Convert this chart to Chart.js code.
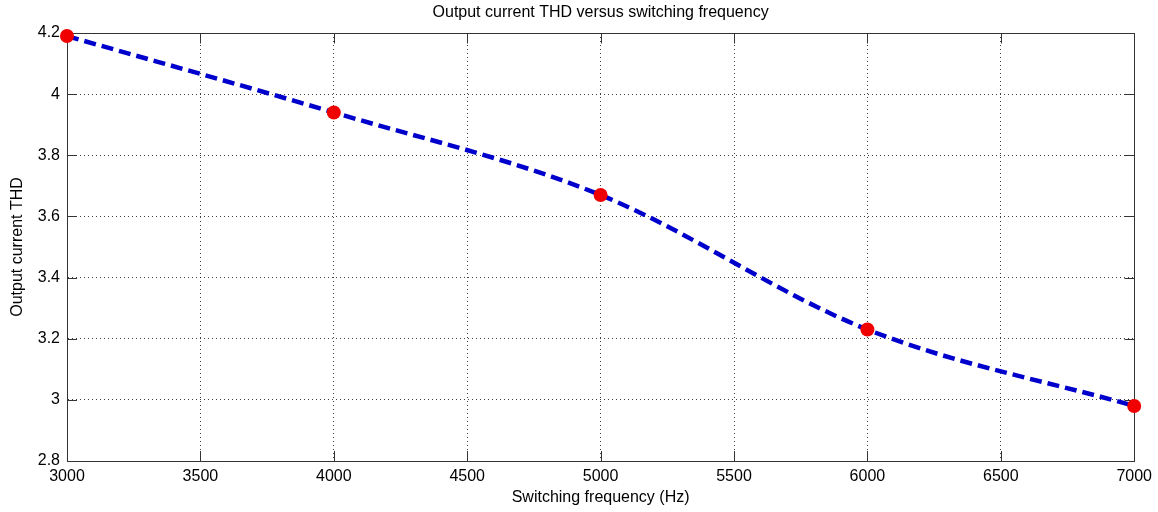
<!DOCTYPE html>
<html>
<head>
<meta charset="utf-8">
<title>Output current THD versus switching frequency</title>
<script src="https://cdn.jsdelivr.net/npm/chart.js@4/dist/chart.umd.min.js"></script>
<style>
  html, body { margin: 0; padding: 0; background: #fff; }
  #wrap { width: 1158px; height: 512px; }
</style>
</head>
<body>
<div id="wrap"><canvas id="thdChart" width="1158" height="512"></canvas></div>
<script>
// switching frequency (Hz) and measured output current THD
const freqHz = [3000, 4000, 5000, 6000, 7000];
const thd = [4.19, 3.94, 3.67, 3.23, 2.98];

const xTicks = [3000, 3500, 4000, 4500, 5000, 5500, 6000, 6500, 7000];
const yTicks = [2.8, 3, 3.2, 3.4, 3.6, 3.8, 4, 4.2];

const axisColor = '#333';
const fontFamily = '"Liberation Sans", Arial, Helvetica, sans-serif';

// closes the box on top/right and draws MATLAB-style inward ticks
const boxTicks = {
    id: 'boxTicks',
    beforeDatasetsDraw(chart) {
        const ctx = chart.ctx;
        const a = chart.chartArea;
        const xs = chart.scales.x;
        const ys = chart.scales.y;
        const len = 10;
        const top = Math.round(ys.getPixelForValue(yTicks[yTicks.length - 1])) + 0.5;
        const right = Math.round(xs.getPixelForValue(xTicks[xTicks.length - 1])) + 0.5;
        ctx.save();
        ctx.strokeStyle = axisColor;
        ctx.lineWidth = 1;
        ctx.beginPath();
        ctx.moveTo(a.left, top);
        ctx.lineTo(right, top);
        ctx.moveTo(right, top);
        ctx.lineTo(right, a.bottom);
        xTicks.forEach(v => {
            const px = Math.round(xs.getPixelForValue(v)) + 0.5;
            ctx.moveTo(px, a.bottom);
            ctx.lineTo(px, a.bottom - len);
            ctx.moveTo(px, top);
            ctx.lineTo(px, top + len);
        });
        yTicks.forEach(v => {
            const py = Math.round(ys.getPixelForValue(v)) + 0.5;
            ctx.moveTo(a.left, py);
            ctx.lineTo(a.left + len, py);
            ctx.moveTo(right, py);
            ctx.lineTo(right - len, py);
        });
        ctx.stroke();
        ctx.restore();
    }
};

new Chart(document.getElementById('thdChart'), {
    type: 'line',
    data: {
        datasets: [{
            data: freqHz.map((f, i) => ({ x: f, y: thd[i] })),
            borderColor: '#0000cc',
            borderWidth: 4.5,
            borderDash: [12, 6],
            cubicInterpolationMode: 'monotone',
            pointRadius: 7,
            pointBorderWidth: 0,
            pointBackgroundColor: '#f00000',
            pointHoverRadius: 7,
            clip: false
        }]
    },
    options: {
        responsive: false,
        animation: false,
        layout: { padding: { left: 0, right: 23, top: 0, bottom: 0 } },
        plugins: {
            legend: { display: false },
            tooltip: { enabled: false },
            title: {
                display: true,
                fullSize: false,
                text: 'Output current THD versus switching frequency',
                color: '#000',
                font: { family: fontFamily, size: 16, weight: 'normal' },
                padding: { top: 3, bottom: 10.8 }
            }
        },
        scales: {
            x: {
                type: 'linear',
                min: 3000,
                max: 7000,
                afterFit: s => { s.height = 51; },
                afterBuildTicks: s => { s.ticks = xTicks.map(v => ({ value: v })); },
                ticks: {
                    color: '#000',
                    padding: 6,
                    maxRotation: 0,
                    autoSkip: false,
                    font: { family: fontFamily, size: 16 },
                    callback: v => String(v)
                },
                grid: { color: 'rgba(0,0,0,0.75)', lineWidth: 1, drawTicks: false },
                border: { color: axisColor, width: 1, dash: [1, 3] },
                title: {
                    display: true,
                    text: 'Switching frequency (Hz)',
                    color: '#000',
                    font: { family: fontFamily, size: 16 },
                    padding: { top: 0, bottom: 4.5 }
                }
            },
            y: {
                type: 'linear',
                min: 2.8,
                max: 4.2,
                afterFit: s => { s.width = 67; },
                afterBuildTicks: s => { s.ticks = yTicks.map(v => ({ value: v })); },
                ticks: {
                    color: '#000',
                    padding: 7,
                    autoSkip: false,
                    font: { family: fontFamily, size: 16 },
                    callback: v => String(+v.toFixed(1))
                },
                grid: { color: 'rgba(0,0,0,0.75)', lineWidth: 1, drawTicks: false },
                border: { color: axisColor, width: 1, dash: [1, 3] },
                title: {
                    display: true,
                    text: 'Output current THD',
                    color: '#000',
                    font: { family: fontFamily, size: 16 },
                    padding: { top: 8.4, bottom: 0 }
                }
            }
        }
    },
    plugins: [boxTicks]
});
</script>
</body>
</html>
